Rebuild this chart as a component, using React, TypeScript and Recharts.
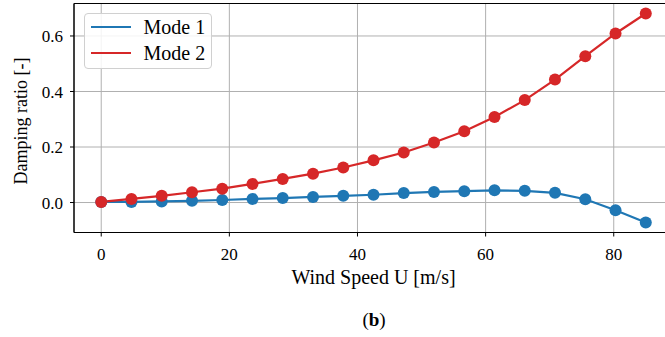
import {
    LineChart,
    Line,
    XAxis,
    YAxis,
    CartesianGrid,
    ReferenceArea,
} from "recharts";

// wind speed, linspace 0..85 (19 points)
const windSpeed = [
    0, 4.72, 9.44, 14.17, 18.89, 23.61, 28.33, 33.06, 37.78, 42.5, 47.22, 51.94,
    56.67, 61.39, 66.11, 70.83, 75.56, 80.28, 85,
];
const mode1 = [
    0.002, 0.002, 0.004, 0.006, 0.009, 0.013, 0.016, 0.02, 0.024, 0.028, 0.034,
    0.038, 0.041, 0.044, 0.042, 0.035, 0.012, -0.028, -0.072,
];
const mode2 = [
    0.002, 0.013, 0.024, 0.037, 0.05, 0.067, 0.085, 0.104, 0.126, 0.152, 0.18,
    0.216, 0.257, 0.308, 0.369, 0.443, 0.527, 0.609, 0.681,
];
const xTicks = [0, 20, 40, 60, 80];
const yTicks = [0, 0.2, 0.4, 0.6];
const xDomain = [-4.25, 89.25];
const yDomain = [-0.108, 0.717];

const data = windSpeed.map((u, i) => ({ u, m1: mode1[i], m2: mode2[i] }));

const FONT = "'Liberation Serif', 'DejaVu Serif', serif";
const TICK_FS = 17;
const LABEL_FS = 20;
const BLUE = "#1f77b4";
const RED = "#d62728";

function LegendBox() {
    const row = (color: string, label: string) => (
        <div style={{ display: "flex", alignItems: "center", height: 25.6 }}>
            <div style={{ width: 40, height: 2, background: color, marginLeft: 5.5, marginRight: 13 }} />
            <span style={{ fontSize: LABEL_FS, color: "#000", lineHeight: 1 }}>{label}</span>
        </div>
    );
    return (
        <div
            style={{
                position: "absolute",
                left: 84,
                top: 12.5,
                fontFamily: FONT,
                width: 128,
                height: 56,
                border: "1px solid #d0d0d0",
                borderRadius: 4,
                background: "rgba(255,255,255,0.85)",
                paddingTop: 1,
                boxSizing: "border-box",
            }}
        >
            {row(BLUE, "Mode 1")}
            {row(RED, "Mode 2")}
        </div>
    );
}

export default function App() {
    return (
        <div style={{ position: "fixed", left: 0, top: 0, width: 665, height: 337, overflow: "hidden", background: "#fff", fontFamily: FONT }}>
            <LineChart
                width={673}
                height={337}
                data={data}
                margin={{ top: 3.5, right: 0, left: 0, bottom: 44.5 }}
                style={{ fontFamily: FONT }}
            >
                <CartesianGrid stroke="#b0b0b0" strokeWidth={1} horizontalValues={yTicks} verticalValues={xTicks} />
                <XAxis
                    dataKey="u"
                    type="number"
                    domain={xDomain}
                    ticks={xTicks}
                    height={60}
                    tickSize={4}
                    tickMargin={11}
                    stroke="#000"
                    tick={{ fill: "#000", fontSize: TICK_FS, fontFamily: FONT }}
                    label={{ value: "Wind Speed U [m/s]", position: "insideBottom", offset: 9, fill: "#000", fontSize: LABEL_FS, fontFamily: FONT }}
                />
                <YAxis
                    type="number"
                    domain={yDomain}
                    ticks={yTicks}
                    width={74}
                    tickSize={4}
                    tickMargin={7}
                    stroke="#000"
                    tickFormatter={(v: number) => v.toFixed(1)}
                    tick={{ fill: "#000", fontSize: TICK_FS, fontFamily: FONT }}
                    label={{ value: "Damping ratio [-]", angle: -90, position: "center", dx: -16, dy: 3, fill: "#000", fontSize: 18, fontFamily: FONT }}
                />
                <ReferenceArea
                    x1={xDomain[0]}
                    x2={xDomain[1]}
                    y1={yDomain[0]}
                    y2={yDomain[1]}
                    fill="none"
                    stroke="#000"
                    strokeWidth={1}
                    ifOverflow="visible"
                />
                <Line
                    dataKey="m1"
                    name="Mode 1"
                    stroke={BLUE}
                    strokeWidth={2.2}
                    dot={{ r: 6, fill: BLUE, stroke: BLUE, strokeWidth: 0 }}
                    isAnimationActive={false}
                />
                <Line
                    dataKey="m2"
                    name="Mode 2"
                    stroke={RED}
                    strokeWidth={2.2}
                    dot={{ r: 6, fill: RED, stroke: RED, strokeWidth: 0 }}
                    isAnimationActive={false}
                />
            </LineChart>
            <LegendBox />
            <div
                style={{
                    position: "absolute",
                    left: 0,
                    width: 748,
                    top: 309,
                    textAlign: "center",
                    fontSize: 19,
                    fontFamily: FONT,
                    color: "#000",
                }}
            >
                (<b>b</b>)
            </div>
        </div>
    );
}
